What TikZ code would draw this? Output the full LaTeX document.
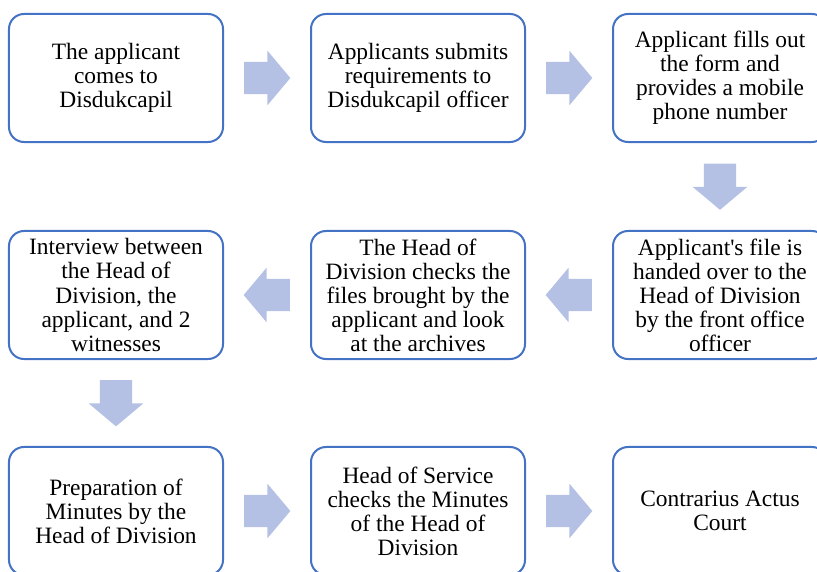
\documentclass[tikz,border=0pt]{standalone}
\usepackage{fontspec}
\setmainfont{Liberation Serif}
\usetikzlibrary{shapes.arrows,calc}
\definecolor{boxblue}{RGB}{68,114,196}
\definecolor{arrowblue}{RGB}{180,193,228}
\tikzset{
	stepbox/.style={draw=boxblue,line width=0.06cm,rounded corners=0.45cm,fill=white,
		minimum width=6.42cm,minimum height=3.84cm,align=center,inner sep=0pt,
		font=\fontsize{20}{20.5}\selectfont},
	blockarrow/.style={single arrow,fill=arrowblue,draw=none,inner sep=0.48cm,
		minimum height=1.38cm,single arrow head extend=0.33cm,
		single arrow tip angle=100,anchor=tail}
}
\begin{document}
\begin{tikzpicture}[x=0.03cm,y=-0.03cm]
	\useasboundingbox (0,0) rectangle (817,572);
	
	\node[stepbox] (s1) at (116,78) {The applicant\\comes to\\Disdukcapil};
	\node[stepbox] (s2) at (418,78) {Applicants submits\\requirements to\\Disdukcapil officer};
	\node[stepbox] (s3) at (720,78) {Applicant fills out\\the form and\\provides a mobile\\phone number};
	
	\node[stepbox] (s4) at (720,295) {Applicant\textquotesingle s file is\\handed over to the\\Head of Division\\by the front office\\officer};
	\node[stepbox] (s5) at (418,295) {The Head of\\Division checks the\\files brought by the\\applicant and look\\at the archives};
	\node[stepbox] (s6) at (116,295) {Interview between\\the Head of\\Division, the\\applicant, and 2\\witnesses};
	
	\node[stepbox] (s7) at (116,511) {Preparation of\\Minutes by the\\Head of Division};
	\node[stepbox] (s8) at (418,511) {Head of Service\\checks the Minutes\\of the Head of\\Division};
	\node[stepbox] (s9) at (720,511) {Contrarius Actus\\Court};
	
	\node[blockarrow] (a12) at ($(s1.east)!.5!(s2.west)+(-23,0)$) {};
	\node[blockarrow] (a23) at ($(s2.east)!.5!(s3.west)+(-23,0)$) {};
	\node[blockarrow,shape border rotate=270] (a34) at ($(s3.south)!.5!(s4.north)+(0,-23)$) {};
	\node[blockarrow,shape border rotate=180] (a45) at ($(s4.west)!.5!(s5.east)+(23,0)$) {};
	\node[blockarrow,shape border rotate=180] (a56) at ($(s5.west)!.5!(s6.east)+(23,0)$) {};
	\node[blockarrow,shape border rotate=270] (a67) at ($(s6.south)!.5!(s7.north)+(0,-23)$) {};
	\node[blockarrow] (a78) at ($(s7.east)!.5!(s8.west)+(-23,0)$) {};
	\node[blockarrow] (a89) at ($(s8.east)!.5!(s9.west)+(-23,0)$) {};
\end{tikzpicture}
\end{document}
